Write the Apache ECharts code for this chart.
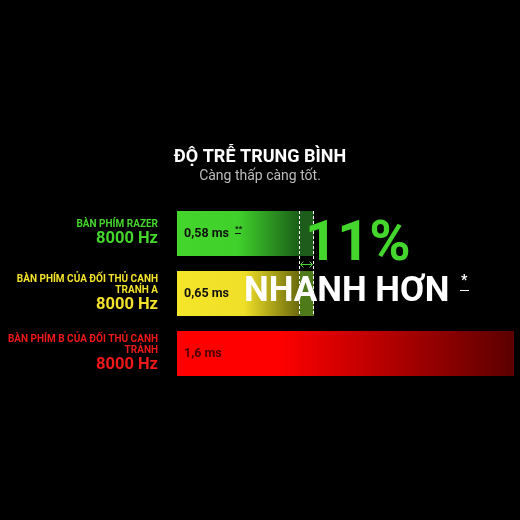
<!DOCTYPE html>
<html>
<head>
<meta charset="utf-8">
<script src="https://cdn.jsdelivr.net/npm/echarts@6/dist/echarts.min.js"></script>
<style>html,body{margin:0;background:#000}#c{width:520px;height:520px}</style>
</head>
<body>
<div id="c"></div>
<script>
const FONT = 'Roboto, "Liberation Sans", sans-serif'
const categories = ['razer', 'rivalA', 'rivalB']
const nameLines = [['BÀN PHÍM RAZER'], ['BÀN PHÍM CỦA ĐỐI THỦ CẠNH', 'TRANH A'], ['BÀN PHÍM B CỦA ĐỐI THỦ CẠNH', 'TRANH']]
const pollRate = ['8000 Hz', '8000 Hz', '8000 Hz']
const latency = [0.58, 0.65, 1.6]
const latencyText = ['0,58 ms', '0,65 ms', '1,6 ms']
const catColors = ['#44d62c', '#f2e22a', '#f01818']
const barStops = [
  [[0, '#44d62c'], [0.5, '#40d02b'], [1, '#1b5f18']],
  [[0, '#f5e62a'], [0.55, '#efdf28'], [1, '#6b6a0c']],
  [[0, '#ff0000'], [0.3, '#ff0000'], [1, '#5c0000']],
]
const diffColors = ['#1e5c1c', '#4e7a1a', '#000']
const labelInk = ['#111', '#111', '#4a0000']

// bars 0 and 1 are split at the razer value, the gap to rival A is a second stacked piece
const gap = latency[1] - latency[0]
const mainData = latency.map((v, i) => ({
  value: i < 2 ? latency[0] : v,
  itemStyle: { color: new echarts.graphic.LinearGradient(0, 0, 1, 0, barStops[i].map(([o, c]) => ({ offset: o, color: c }))) },
  label: { color: labelInk[i] },
}))
const gapData = latency.map((v, i) => ({ value: i < 2 ? gap : 0, itemStyle: { color: diffColors[i] } }))

const rich = {}
catColors.forEach((c, i) => {
  rich['s' + i] = { color: c, fontSize: 10, fontWeight: 'bold', fontFamily: FONT, lineHeight: 11, align: 'right' }
  rich['b' + i] = { color: c, fontSize: 16.5, fontWeight: 'bold', fontFamily: FONT, lineHeight: 18, align: 'right' }
})

const chart = echarts.init(document.getElementById('c'), null, { renderer: 'canvas' })
chart.setOption({
  backgroundColor: '#000',
  animation: false,
  title: {
    text: 'ĐỘ TRỄ TRUNG BÌNH', subtext: 'Càng thấp càng tốt.',
    left: 'center', top: 143, itemGap: 3,
    textStyle: { color: '#fff', fontSize: 18, fontWeight: 'bold', fontFamily: FONT },
    subtextStyle: { color: '#bcbcbc', fontSize: 14, fontFamily: FONT },
  },
  grid: { left: 177, right: 6, top: 203.5, bottom: 136.5 },
  xAxis: { type: 'value', min: 0, max: 1.6, show: false },
  yAxis: {
    type: 'category', inverse: true, data: categories,
    axisLine: { show: false }, axisTick: { show: false }, splitLine: { show: false },
    axisLabel: {
      margin: 19, rich,
      formatter: (v, i) => nameLines[i].map((t) => `{s${i}|${t}}`).join('\n') + `\n{b${i}|${pollRate[i]}}`,
    },
  },
  series: [
    {
      type: 'bar', stack: 'lat', barWidth: 45, data: mainData,
      label: {
        show: true, position: 'insideLeft', distance: 7,
        formatter: (p) => latencyText[p.dataIndex],
        fontSize: 12.5, fontWeight: 'bold', fontFamily: FONT,
      },
    },
    { type: 'bar', stack: 'lat', barWidth: 45, data: gapData, silent: true },
    {
      type: 'custom', silent: true, clip: false, z: 5,
      encode: { x: [0, 2], y: [1, 3] },
      data: [[latency[0], 0, latency[1], 1]],
      renderItem(params, api) {
        const a = api.coord([api.value(0), api.value(1)])
        const b = api.coord([api.value(2), api.value(3)])
        const half = 22.5
        const xa = Math.round(a[0]) + 0.5, xb = Math.round(b[0]) - 0.5
        const y0 = a[1] - half, y1 = b[1] + half, ym = Math.round((a[1] + b[1]) / 2) + 0.5
        const dash = { stroke: '#ffffff', lineWidth: 1, lineDash: [3, 2], fill: null }
        const arrow = { stroke: '#44d62c', lineWidth: 1, fill: null }
        return {
          type: 'group', children: [
            { type: 'line', shape: { x1: xa, y1: y0, x2: xa, y2: y1 }, style: dash },
            { type: 'line', shape: { x1: xb, y1: y0, x2: xb, y2: y1 }, style: dash },
            { type: 'line', shape: { x1: xa + 1, y1: ym, x2: xb - 1, y2: ym }, style: arrow },
            { type: 'polyline', shape: { points: [[xa + 4, ym - 3], [xa + 1, ym], [xa + 4, ym + 3]] }, style: arrow },
            { type: 'polyline', shape: { points: [[xb - 4, ym - 3], [xb - 1, ym], [xb - 4, ym + 3]] }, style: arrow },
          ],
        }
      },
    },
  ],
  graphic: [
    { type: 'text', x: 305, y: 246, z: 10, style: { text: '11%', fill: '#44d62c', font: `bold 56px ${FONT}`, verticalAlign: 'middle' } },
    { type: 'text', x: 244, y: 292, z: 10, style: { text: 'NHANH HƠN', fill: '#fff', font: `bold 35px ${FONT}`, verticalAlign: 'middle' } },
    { type: 'text', x: 461, y: 281, z: 10, style: { text: '*', fill: '#fff', font: `bold 14px ${FONT}`, verticalAlign: 'middle' } },
    { type: 'line', z: 10, shape: { x1: 460, y1: 290.5, x2: 469, y2: 290.5 }, style: { stroke: '#fff', lineWidth: 1 } },
    { type: 'text', x: 235, y: 229, z: 10, style: { text: '**', fill: '#111', font: `bold 8px ${FONT}`, verticalAlign: 'middle' } },
    { type: 'line', z: 10, shape: { x1: 235, y1: 233.5, x2: 241, y2: 233.5 }, style: { stroke: '#111', lineWidth: 1 } },
  ],
})
</script>
</body>
</html>
